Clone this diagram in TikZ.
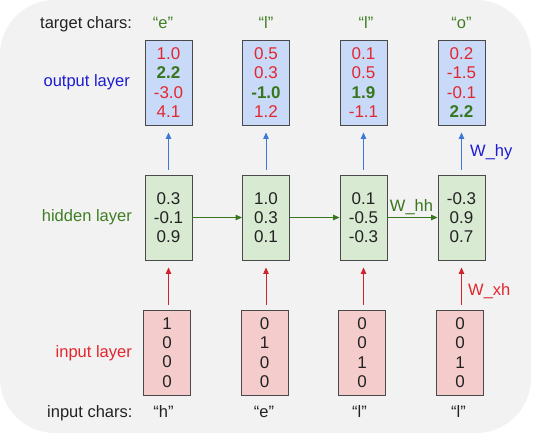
\documentclass[tikz,border=0pt]{standalone}
\usepackage{fontspec}
\setmainfont{Liberation Sans}
\usetikzlibrary{arrows.meta}
\definecolor{bgc}{HTML}{F2F2F2}
\definecolor{boxborder}{HTML}{4A4A4A}
\definecolor{outfill}{HTML}{C9DAF8}
\definecolor{hidfill}{HTML}{D9EAD3}
\definecolor{infill}{HTML}{F4CCCC}
\definecolor{tred}{HTML}{E3262E}
\definecolor{tgreen}{HTML}{38761D}
\definecolor{lgreen}{HTML}{3F7F24}
\definecolor{tblue}{HTML}{1C1CD2}
\definecolor{ablue}{HTML}{3C78D8}
\definecolor{ared}{HTML}{D0222E}
\definecolor{tdark}{HTML}{222222}
\newcommand{\rv}[1]{\textcolor{tred}{#1}}
\newcommand{\gv}[1]{\textcolor{tgreen}{\textbf{#1}}}
\begin{document}
\begin{tikzpicture}[x=1pt,y=-1pt,
  box/.style={draw=boxborder, line width=0.9pt, minimum width=47pt, minimum height=85pt,
    inner sep=0pt, align=center, text=tdark},
  outbox/.style={box, fill=outfill, font=\fontsize{17}{19.5}\selectfont},
  hidbox/.style={box, fill=hidfill, font=\fontsize{17}{19}\selectfont},
  inbox/.style={box, fill=infill, font=\fontsize{17}{19.3}\selectfont},
  lbl/.style={font=\fontsize{16.5}{19}\selectfont, inner sep=0pt},
  tip/.style={-{Triangle[length=6.5pt,width=5.5pt]}, line width=0.9pt},
  barrow/.style={tip, draw=ablue, shorten <=5pt, shorten >=7pt},
  rarrow/.style={tip, draw=ared, shorten <=5pt, shorten >=7pt},
  garrow/.style={tip, draw=tgreen}
]
\useasboundingbox (0,0) rectangle (543,440);
\fill[white] (0,0) rectangle (543,440);
\fill[bgc, rounded corners=55pt] (0,0) rectangle (531,433);

% output layer
\node[outbox] (o1) at (168.5,82.5) {\rv{1.0}\\\gv{2.2}\\\rv{-3.0}\\\rv{4.1}};
\node[outbox] (o2) at (266,82.5) {\rv{0.5}\\\rv{0.3}\\\gv{-1.0}\\\rv{1.2}};
\node[outbox] (o3) at (363.5,82.5) {\rv{0.1}\\\rv{0.5}\\\gv{1.9}\\\rv{-1.1}};
\node[outbox] (o4) at (461.5,82.5) {\rv{0.2}\\\rv{-1.5}\\\rv{-0.1}\\\gv{2.2}};

% hidden layer
\node[hidbox] (h1) at (168.5,217.5) {0.3\\-0.1\\0.9};
\node[hidbox] (h2) at (266,217.5) {1.0\\0.3\\0.1};
\node[hidbox] (h3) at (363.5,217.5) {0.1\\-0.5\\-0.3};
\node[hidbox] (h4) at (461.5,217.5) {-0.3\\0.9\\0.7};

% input layer
\node[inbox] (i1) at (167,352.5) {1\\0\\0\\0};
\node[inbox] (i2) at (264.5,352.5) {0\\1\\0\\0};
\node[inbox] (i3) at (362,352.5) {0\\0\\1\\0};
\node[inbox] (i4) at (460,352.5) {0\\0\\1\\0};

% arrows
\foreach \n in {1,2,3,4}{
  \draw[barrow] (h\n.north) -- (o\n.south);
  \draw[rarrow] (h\n.south |- i\n.north) -- (h\n.south);
}
\draw[garrow] (h1.east) -- (h2.west);
\draw[garrow] (h2.east) -- (h3.west);
\draw[garrow] (h3.east) -- (h4.west);

% weight labels
\node[lbl, text=tgreen, anchor=base] (whh) at (411.5,211) {W\_hh};
\node[lbl, text=tblue, anchor=base west] (why) at (470,156) {W\_hy};
\node[lbl, text=tred, anchor=base west] (wxh) at (468,295) {W\_xh};

% row labels
\node[lbl, text=tdark, anchor=base west] (tc) at (40,28) {target chars:};
\node[lbl, text=tblue, anchor=base east] (ol) at (130,86) {output layer};
\node[lbl, text=lgreen, anchor=base east] (hl) at (132,221) {hidden layer};
\node[lbl, text=tred, anchor=base east] (il) at (132,357) {input layer};
\node[lbl, text=tdark, anchor=base west] (ic) at (47,417) {input chars:};

% target chars
\node[lbl, text=lgreen, anchor=base] (t1) at (163,28) {“e”};
\node[lbl, text=lgreen, anchor=base] (t2) at (266,28) {“l”};
\node[lbl, text=lgreen, anchor=base] (t3) at (366,28) {“l”};
\node[lbl, text=lgreen, anchor=base] (t4) at (461.5,28) {“o”};

% input chars
\node[lbl, text=tdark, anchor=base] (c1) at (163.5,417) {“h”};
\node[lbl, text=tdark, anchor=base] (c2) at (264,417) {“e”};
\node[lbl, text=tdark, anchor=base] (c3) at (359.5,417) {“l”};
\node[lbl, text=tdark, anchor=base] (c4) at (458.5,417) {“l”};
\end{tikzpicture}
\end{document}
